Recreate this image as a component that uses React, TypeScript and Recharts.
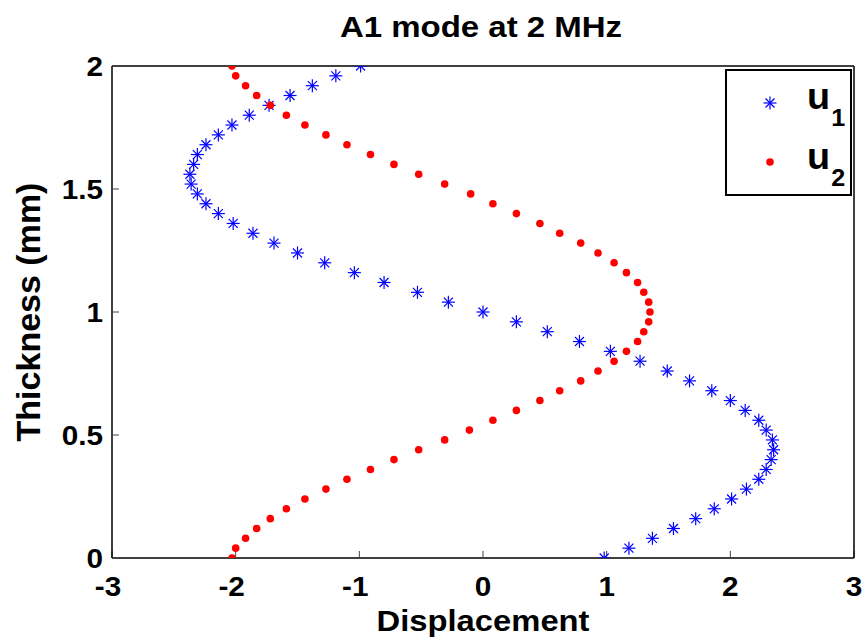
import React from 'react';
import { ScatterChart, Scatter, XAxis, YAxis, Legend } from 'recharts';

const thickness = [
  0, 0.04, 0.08, 0.12, 0.16, 0.2, 0.24, 0.28, 0.32, 0.36, 0.4, 0.44, 0.48, 0.52, 0.56, 0.6, 0.64,
  0.68, 0.72, 0.76, 0.8, 0.84, 0.88, 0.92, 0.96, 1.0, 1.04, 1.08, 1.12, 1.16, 1.2, 1.24, 1.28, 1.32,
  1.36, 1.4, 1.44, 1.48, 1.52, 1.56, 1.6, 1.64, 1.68, 1.72, 1.76, 1.8, 1.84, 1.88, 1.92, 1.96, 2.0,
];

const u1 = [
  0.98, 1.18, 1.37, 1.54, 1.72, 1.87, 2.01, 2.13, 2.23, 2.29, 2.33, 2.35, 2.34, 2.29, 2.23, 2.12, 2.0,
  1.85, 1.67, 1.49, 1.27, 1.03, 0.78, 0.52, 0.27, 0.0, -0.28, -0.53, -0.8, -1.04, -1.28, -1.5, -1.69,
  -1.86, -2.02, -2.14, -2.24, -2.31, -2.36, -2.37, -2.34, -2.31, -2.24, -2.14, -2.03, -1.89, -1.73,
  -1.56, -1.38, -1.19, -0.99,
];

const u2 = [
  -2.03, -2.0, -1.92, -1.83, -1.72, -1.59, -1.44, -1.27, -1.1, -0.91, -0.72, -0.52, -0.31, -0.11, 0.08,
  0.27, 0.46, 0.62, 0.79, 0.93, 1.06, 1.16, 1.25, 1.3, 1.34, 1.35, 1.34, 1.3, 1.25, 1.16, 1.06, 0.93,
  0.79, 0.62, 0.46, 0.27, 0.08, -0.1, -0.31, -0.52, -0.72, -0.91, -1.1, -1.27, -1.44, -1.59, -1.72,
  -1.83, -1.92, -2.0, -2.03,
];

const xTicks = [-3, -2, -1, 0, 1, 2, 3];
const yTicks = [0, 0.5, 1, 1.5, 2];
const titleText = 'A1 mode at 2 MHz';
const xLabelText = 'Displacement';
const yLabelText = 'Thickness (mm)';
const seriesNames = ['u', 'u'];
const seriesSubs = ['1', '2'];

const u1Data = thickness.map((t, i) => ({ x: u1[i], y: t }));
const u2Data = thickness.map((t, i) => ({ x: u2[i], y: t }));

const FONT = '"Liberation Sans", Arial, Helvetica, sans-serif';
const BLUE = '#0000ff';
const RED = '#ff0000';

function SText(props: any) {
  const { x, y, anchor = 'middle', size, sx = 1, children } = props;
  return (
    <text
      x={x}
      y={y}
      textAnchor={anchor}
      fontFamily={FONT}
      fontWeight="bold"
      fontSize={size}
      fill="#000"
      transform={`translate(${x} ${y}) scale(${sx} 1) translate(${-x} ${-y})`}
    >
      {children}
    </text>
  );
}

const Star = (props: any) => {
  const { cx, cy } = props;
  if (cx == null || cy == null) return null;
  const a = 6.5;
  const d = 4.5;
  return (
    <g stroke={BLUE} strokeWidth={1.2} fill="none">
      <line x1={cx - a} y1={cy} x2={cx + a} y2={cy} />
      <line x1={cx} y1={cy - a} x2={cx} y2={cy + a} />
      <line x1={cx - d} y1={cy - d} x2={cx + d} y2={cy + d} />
      <line x1={cx - d} y1={cy + d} x2={cx + d} y2={cy - d} />
    </g>
  );
};

const Dot = (props: any) => {
  const { cx, cy } = props;
  if (cx == null || cy == null) return null;
  return <circle cx={cx} cy={cy} r={3.8} fill={RED} />;
};

const XTick = (props: any) => {
  const { x, y, payload } = props;
  const v = payload.value;
  return (
    <SText x={v < 0 ? x - 4 : x} y={y + 45} size={27} sx={1.1}>
      {String(v)}
    </SText>
  );
};

const YTick = (props: any) => {
  const { x, y, payload } = props;
  return (
    <SText x={x} y={y + 10} anchor="end" size={27} sx={1.1}>
      {String(payload.value)}
    </SText>
  );
};

const LegendLabel = (props: any) => {
  const { x, y, name, sub } = props;
  return (
    <text
      x={x}
      y={y}
      textAnchor="start"
      fontFamily={FONT}
      fontWeight="bold"
      fontSize={36}
      fill="#000"
      transform={`translate(${x} ${y}) scale(1.05 1) translate(${-x} ${-y})`}
    >
      <tspan>{name}</tspan>
      <tspan dx={1} dy={17} fontSize={24}>
        {sub}
      </tspan>
    </text>
  );
};

const renderLegend = () => (
  <svg width={128} height={128} style={{ display: 'block' }}>
    <rect x={1} y={1} width={125} height={125} fill="#fff" stroke="#000" strokeWidth={2} />
    <Star cx={45} cy={34} />
    <Dot cx={45} cy={93} />
    <LegendLabel x={82} y={40} name={seriesNames[0]} sub={seriesSubs[0]} />
    <LegendLabel x={82} y={100} name={seriesNames[1]} sub={seriesSubs[1]} />
  </svg>
);

export default function App() {
  return (
    <div style={{ position: 'absolute', left: 0, top: 0, width: 866, height: 642, background: '#fff' }}>
      <ScatterChart width={866} height={642} margin={{ top: 65, right: 11, bottom: 0, left: 0 }}>
        <XAxis
          xAxisId="bottom"
          type="number"
          dataKey="x"
          domain={[-3, 3]}
          ticks={xTicks}
          orientation="bottom"
          height={84}
          axisLine={{ stroke: '#000', strokeWidth: 1.5 }}
          tickLine={{ stroke: '#444', strokeWidth: 1 }}
          tickSize={-7}
          tickMargin={0}
          tick={<XTick />}
          interval={0}
          allowDataOverflow
          label={{
            content: (p: any) => {
              const vb = p.viewBox;
              const cx = vb.x + vb.width / 2;
              return (
                <g>
                  <SText x={cx} y={vb.y + 73} size={29} sx={1.13}>
                    {xLabelText}
                  </SText>
                  <SText x={cx - 2} y={37} size={30} sx={1.1}>
                    {titleText}
                  </SText>
                </g>
              );
            },
          }}
        />
        <XAxis
          xAxisId="top"
          type="number"
          dataKey="x"
          domain={[-3, 3]}
          ticks={xTicks}
          orientation="top"
          height={1}
          axisLine={{ stroke: '#000', strokeWidth: 1.5 }}
          tickLine={{ stroke: '#444', strokeWidth: 1 }}
          tickSize={-7}
          tick={false}
          interval={0}
          allowDataOverflow
        />
        <YAxis
          yAxisId="left"
          type="number"
          dataKey="y"
          domain={[0, 2]}
          ticks={yTicks}
          orientation="left"
          width={112}
          axisLine={{ stroke: '#000', strokeWidth: 1.5 }}
          tickLine={{ stroke: '#444', strokeWidth: 1 }}
          tickSize={-7}
          tickMargin={16}
          tick={<YTick />}
          interval={0}
          allowDataOverflow
          label={{
            content: (p: any) => {
              const vb = p.viewBox;
              const cx = 40;
              const cy = vb.y + vb.height / 2;
              return (
                <text
                  x={cx}
                  y={cy}
                  textAnchor="middle"
                  fontFamily={FONT}
                  fontWeight="bold"
                  fontSize={34}
                  fill="#000"
                  transform={`rotate(-90 ${cx} ${cy})`}
                >
                  {yLabelText}
                </text>
              );
            },
          }}
        />
        <YAxis
          yAxisId="right"
          type="number"
          dataKey="y"
          domain={[0, 2]}
          ticks={yTicks}
          orientation="right"
          width={1}
          axisLine={{ stroke: '#000', strokeWidth: 1.5 }}
          tickLine={{ stroke: '#444', strokeWidth: 1 }}
          tickSize={-7}
          tick={false}
          interval={0}
          allowDataOverflow
        />
        <Legend
          layout="vertical"
          align="center"
          verticalAlign="middle"
          wrapperStyle={{ left: 725, top: 69, width: 128, height: 128 }}
          content={renderLegend}
        />
        <Scatter
          name="u1"
          data={u1Data}
          xAxisId="bottom"
          yAxisId="left"
          shape={<Star />}
          isAnimationActive={false}
        />
        <Scatter
          name="u2"
          data={u2Data}
          xAxisId="bottom"
          yAxisId="left"
          shape={<Dot />}
          isAnimationActive={false}
        />
      </ScatterChart>
    </div>
  );
}
